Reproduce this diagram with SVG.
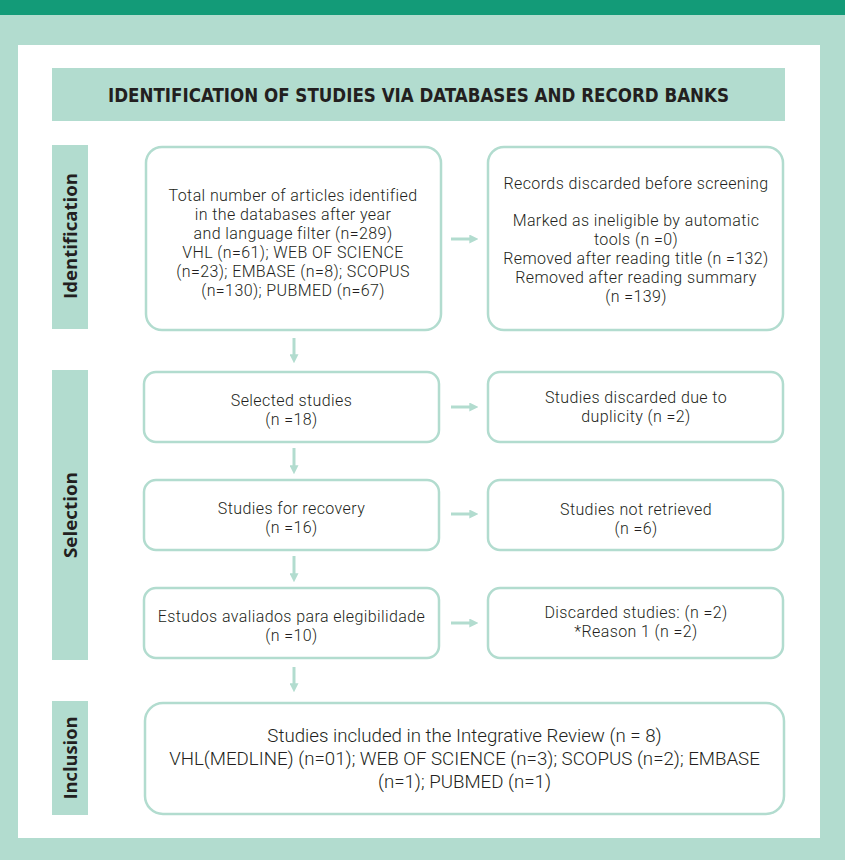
<svg xmlns="http://www.w3.org/2000/svg" width="845" height="860" viewBox="0 0 845 860">
<defs>
<marker id="ah" viewBox="0 0 10 10" refX="3" refY="5" markerWidth="9" markerHeight="9" markerUnits="userSpaceOnUse" orient="auto">
<path d="M0,0 L10,5 L0,10 z" fill="#b2dccf"/>
</marker>
<style>
.box{fill:#ffffff;stroke:#b2dccf;stroke-width:2.5}
.band{fill:#b2dccf}
.t{font-family:Roboto,"Liberation Sans",sans-serif;font-weight:300;font-size:16px;letter-spacing:0.4px;fill:#231f20;text-anchor:middle}
.big{font-size:18.7px;letter-spacing:0}
.side{font-family:"Open Sans","DejaVu Sans",sans-serif;font-weight:700;font-size:18px;fill:#231f20;text-anchor:middle}
.title{font-family:"DejaVu Sans",sans-serif;font-stretch:condensed;font-weight:700;font-size:19px;fill:#231f20;text-anchor:middle}
.c{stroke:#b2dccf;stroke-width:3;fill:none;marker-end:url(#ah)}
</style>
</defs>
<rect x="0" y="0" width="845" height="860" fill="#b2dccf"/>
<rect x="0" y="0" width="845" height="15" fill="#139b78"/>
<rect x="18" y="45" width="802" height="793" fill="#ffffff"/>
<g id="header">
<rect class="band" x="52" y="68" width="733" height="53"/>
<text class="title" x="418.5" y="102" textLength="621" lengthAdjust="spacingAndGlyphs">IDENTIFICATION OF STUDIES VIA DATABASES AND RECORD BANKS</text>
</g>
<g id="phase-identification">
<rect class="band" x="52" y="145" width="36" height="184"/>
<text class="side" transform="translate(77,236) rotate(-90)" textLength="126" lengthAdjust="spacingAndGlyphs">Identification</text>
</g>
<g id="phase-selection">
<rect class="band" x="52" y="370" width="36" height="290"/>
<text class="side" transform="translate(77,515) rotate(-90)" textLength="86" lengthAdjust="spacingAndGlyphs">Selection</text>
</g>
<g id="phase-inclusion">
<rect class="band" x="52" y="701" width="36" height="114"/>
<text class="side" transform="translate(77,758) rotate(-90)" textLength="83" lengthAdjust="spacingAndGlyphs">Inclusion</text>
</g>
<g id="identified">
<rect class="box" x="146" y="147" width="295" height="183" rx="16"/>
<text class="t"><tspan x="293" y="201">Total number of articles identified</tspan><tspan x="293" y="220">in the databases after year</tspan><tspan x="293" y="239">and language filter (n=289)</tspan><tspan x="293" y="258">VHL (n=61); WEB OF SCIENCE</tspan><tspan x="293" y="277">(n=23); EMBASE (n=8); SCOPUS</tspan><tspan x="293" y="296">(n=130); PUBMED (n=67)</tspan></text>
</g>
<g id="discarded-before">
<rect class="box" x="488" y="147" width="295" height="183" rx="16"/>
<text class="t"><tspan x="636" y="189">Records discarded before screening</tspan><tspan x="636" y="226">Marked as ineligible by automatic</tspan><tspan x="636" y="245">tools (n =0)</tspan><tspan x="636" y="264">Removed after reading title (n =132)</tspan><tspan x="636" y="283">Removed after reading summary</tspan><tspan x="636" y="302">(n =139)</tspan></text>
</g>
<g id="selected">
<rect class="box" x="144" y="372" width="295" height="70" rx="12"/>
<text class="t"><tspan x="291.5" y="405.5">Selected studies</tspan><tspan x="291.5" y="424.5">(n =18)</tspan></text>
</g>
<g id="duplicity">
<rect class="box" x="488" y="372" width="295" height="70" rx="12"/>
<text class="t"><tspan x="636" y="402.5">Studies discarded due to</tspan><tspan x="636" y="421.5">duplicity (n =2)</tspan></text>
</g>
<g id="recovery">
<rect class="box" x="144" y="480" width="295" height="70" rx="12"/>
<text class="t"><tspan x="291.5" y="513.5">Studies for recovery</tspan><tspan x="291.5" y="532.5">(n =16)</tspan></text>
</g>
<g id="not-retrieved">
<rect class="box" x="488" y="480" width="295" height="70" rx="12"/>
<text class="t"><tspan x="636" y="514.5">Studies not retrieved</tspan><tspan x="636" y="533.5">(n =6)</tspan></text>
</g>
<g id="eligibility">
<rect class="box" x="144" y="588" width="295" height="70" rx="12"/>
<text class="t"><tspan x="291.5" y="621.5">Estudos avaliados para elegibilidade</tspan><tspan x="291.5" y="640.5">(n =10)</tspan></text>
</g>
<g id="excluded">
<rect class="box" x="488" y="588" width="295" height="70" rx="12"/>
<text class="t"><tspan x="636" y="617.5">Discarded studies: (n =2)</tspan><tspan x="636" y="636.5">*Reason 1 (n =2)</tspan></text>
</g>
<g id="included">
<rect class="box" x="145" y="703" width="639" height="111" rx="18"/>
<text class="t big"><tspan x="464.5" y="742">Studies included in the Integrative Review (n = 8)</tspan><tspan x="464.5" y="765">VHL(MEDLINE) (n=01); WEB OF SCIENCE (n=3); SCOPUS (n=2); EMBASE</tspan><tspan x="464.5" y="788">(n=1); PUBMED (n=1)</tspan></text>
</g>
<g id="connectors">
<line class="c" x1="451" y1="239" x2="472" y2="239"/>
<line class="c" x1="451" y1="407" x2="472" y2="407"/>
<line class="c" x1="451" y1="514" x2="472" y2="514"/>
<line class="c" x1="451" y1="623" x2="472" y2="623"/>
<line class="c" x1="294" y1="338" x2="294" y2="357"/>
<line class="c" x1="294" y1="448" x2="294" y2="468"/>
<line class="c" x1="294" y1="556" x2="294" y2="576"/>
<line class="c" x1="294" y1="667" x2="294" y2="686"/>
</g>
</svg>
